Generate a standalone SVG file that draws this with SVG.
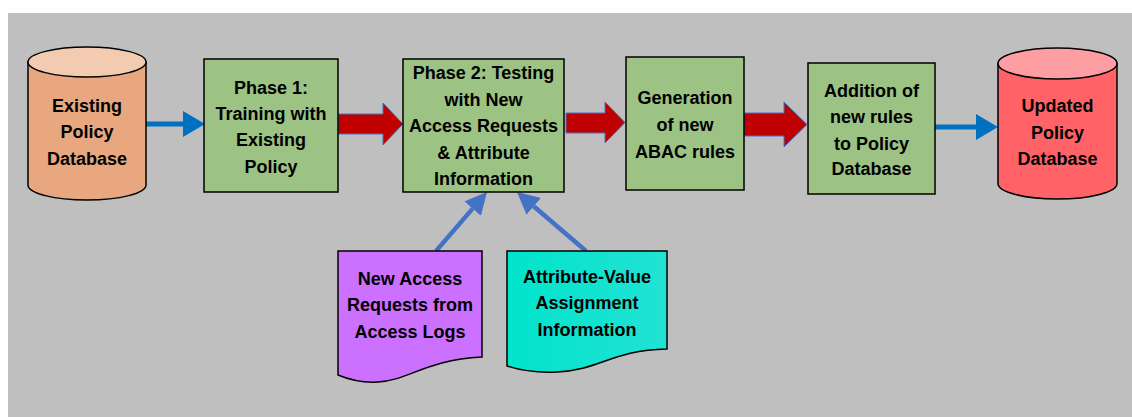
<svg xmlns="http://www.w3.org/2000/svg" width="1132" height="417" viewBox="0 0 1132 417">
  <style>
    .lbl { font-family: "Liberation Sans", Arial, sans-serif; font-weight: bold; font-size: 18px; fill: #000; text-anchor: middle; }
    .box { fill: #9DC384; stroke: #000; stroke-width: 1.5; }
    .edge { stroke-width: 1.5; stroke: #000; }
    .flow { fill: #C00000; stroke: #4472C4; stroke-width: 1; }
    .link { stroke: #0070C0; stroke-width: 5; fill: none; }
    .feed { stroke: #4472C4; stroke-width: 4.5; fill: none; }
  </style>
  <defs>
    <marker id="headTop" markerUnits="userSpaceOnUse" markerWidth="22" markerHeight="26" refX="0" refY="13" orient="auto">
      <path d="M0,0 L22,13 L0,26 Z" fill="#0070C0"/>
    </marker>
    <marker id="headFeed" markerUnits="userSpaceOnUse" markerWidth="22" markerHeight="22" refX="0" refY="11" orient="auto">
      <path d="M0,0 L22,11 L0,22 Z" fill="#4472C4"/>
    </marker>
    <linearGradient id="tealFill" x1="0" y1="0" x2="1" y2="0">
      <stop offset="0" stop-color="#00E4CC"/>
      <stop offset="1" stop-color="#22E2D4"/>
    </linearGradient>
  </defs>

  <!-- canvas -->
  <rect x="8" y="13" width="1124" height="404" fill="#BFBFBF"/>

  <!-- connectors -->
  <g id="connectors">
    <line class="link" x1="146" y1="124" x2="183" y2="124" marker-end="url(#headTop)"/>
    <polygon class="flow" points="338,114 383,114 383,103 403,124 383,145 383,134 338,134"/>
    <polygon class="flow" points="566,113 605,113 605,102 625,122.5 605,143 605,133 566,133"/>
    <polygon class="flow" points="744,113 784,113 784,102 807,124.5 784,147 784,136 744,136"/>
    <line class="link" x1="935" y1="127" x2="976" y2="127" marker-end="url(#headTop)"/>
    <line class="feed" x1="436" y1="251" x2="472.6" y2="208.6" marker-end="url(#headFeed)"/>
    <line class="feed" x1="586" y1="251" x2="533.7" y2="206.3" marker-end="url(#headFeed)"/>
  </g>

  <!-- source database -->
  <g id="existing-db">
    <path d="M28,62 V185 A59,15 0 0 0 146,185 V62 Z" fill="#E8A77E" class="edge"/>
    <ellipse cx="87" cy="62" rx="59" ry="15" fill="#F2CBB1" class="edge"/>
    <text class="lbl" x="87" y="111.5">Existing</text>
    <text class="lbl" x="87" y="138">Policy</text>
    <text class="lbl" x="87" y="164.5">Database</text>
  </g>

  <g id="phase1">
    <rect class="box" x="204" y="59" width="134" height="133"/>
    <text class="lbl" x="271" y="93.5">Phase 1:</text>
    <text class="lbl" x="271" y="119.5">Training with</text>
    <text class="lbl" x="271" y="146">Existing</text>
    <text class="lbl" x="271" y="172.5">Policy</text>
  </g>

  <g id="phase2">
    <rect class="box" x="403" y="59" width="161" height="133"/>
    <text class="lbl" x="483.5" y="79">Phase 2: Testing</text>
    <text class="lbl" x="483.5" y="105.5">with New</text>
    <text class="lbl" x="483.5" y="132">Access Requests</text>
    <text class="lbl" x="483.5" y="158.5">&amp; Attribute</text>
    <text class="lbl" x="483.5" y="185">Information</text>
  </g>

  <g id="generation">
    <rect class="box" x="626" y="57" width="118" height="133"/>
    <text class="lbl" x="685" y="103.5">Generation</text>
    <text class="lbl" x="685" y="130.5">of new</text>
    <text class="lbl" x="685" y="157.5">ABAC rules</text>
  </g>

  <g id="addition">
    <rect class="box" x="808" y="63" width="127" height="131"/>
    <text class="lbl" x="871.5" y="96.5">Addition of</text>
    <text class="lbl" x="871.5" y="123">new rules</text>
    <text class="lbl" x="871.5" y="149.5">to Policy</text>
    <text class="lbl" x="871.5" y="175">Database</text>
  </g>

  <!-- result database -->
  <g id="updated-db">
    <path d="M998,63.5 V183.5 A59.5,15.5 0 0 0 1117,183.5 V63.5 Z" fill="#FF6367" class="edge"/>
    <ellipse cx="1057.5" cy="63.5" rx="59.5" ry="15.5" fill="#FF9EA2" class="edge"/>
    <text class="lbl" x="1057.5" y="111.5">Updated</text>
    <text class="lbl" x="1057.5" y="138.5">Policy</text>
    <text class="lbl" x="1057.5" y="164.5">Database</text>
  </g>

  <!-- input documents -->
  <g id="access-logs">
    <path d="M338,251 H482 V357 C425,360 410,380 378,382 C362,383 350,380 338,375 Z" fill="#CC70FF" class="edge"/>
    <text class="lbl" x="410" y="284.5">New Access</text>
    <text class="lbl" x="410" y="311">Requests from</text>
    <text class="lbl" x="410" y="337.5">Access Logs</text>
  </g>

  <g id="attribute-info">
    <path d="M507,251 H667 V349 C612,350 600,370 557,372 C535,373 522,371 507,366 Z" fill="url(#tealFill)" class="edge"/>
    <text class="lbl" x="587" y="282.5">Attribute-Value</text>
    <text class="lbl" x="587" y="309">Assignment</text>
    <text class="lbl" x="587" y="335.5">Information</text>
  </g>
</svg>
